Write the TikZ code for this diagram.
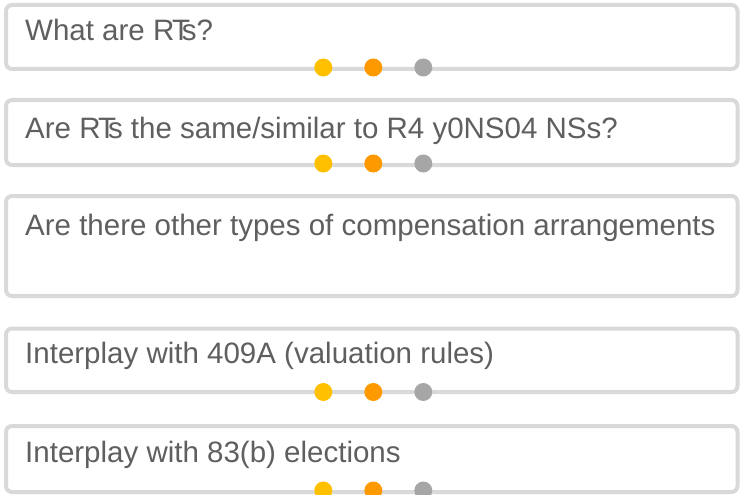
\documentclass[tikz,border=0pt]{standalone}
\usepackage{fontspec}
\setmainfont{Liberation Sans}
\usepackage{tikz}
\usetikzlibrary{shapes,positioning}
\definecolor{boxline}{HTML}{D9D9D9}
\definecolor{qtext}{HTML}{5F5F5F}
\definecolor{dotyellow}{HTML}{FFC000}
\definecolor{dotorange}{HTML}{FF9900}
\definecolor{dotgray}{HTML}{A6A6A6}
\newcommand{\rts}{R\kern-0.08em T\kern-0.28em s}
\tikzset{
  qbox/.style={
    rectangle,
    rounded corners=6pt,
    draw=boxline, line width=4pt,
    fill=white,
    minimum width=731.5pt,
    inner sep=0pt, outer sep=0pt},
  qlabel/.style={
    anchor=base west,
    inner sep=0pt,
    text=qtext,
    font=\fontsize{29.5}{35}\selectfont},
}

\begin{document}
\begin{tikzpicture}[
    x=1pt, y=-1pt,
    dot/.style={circle, inner sep=0pt, minimum size=18pt},
    first dot/.style={dot, fill=dotyellow},
    second dot/.style={dot, fill=dotorange},
    third dot/.style={dot, fill=dotgray}
    ]

    \useasboundingbox (0,0) rectangle (742,495);

    % Boxes
    \node[qbox, minimum height=64pt] (q1) at (371.75,37) {};
    \node[qbox, minimum height=65pt] (q2) at (371.75,132.5) {};
    \node[qbox, minimum height=100pt] (q3) at (371.75,246) {};
    \node[qbox, minimum height=63.5pt] (q4) at (371.75,360.25) {};
    \node[qbox, minimum height=66pt] (q5) at (371.75,459) {};

    % Questions
    \node[qlabel] (t1) at (25,41) {What are \rts?};
    \node[qlabel] (t2) at (25,138) {Are \rts{} the same/similar to R4 y0NS04 NSs?};
    \node[qlabel] (t3) at (25,235) {Are there other types of compensation arrangements};
    \node[qlabel] (t4) at (25,363) {Interplay with 409A (valuation rules)};
    \node[qlabel] (t5) at (25,462) {Interplay with 83(b) elections};

    %dots
    \node[first dot]  (q1a) at (323.3,67.5) {};
    \node[second dot] (q1b) at (373.3,67.5) {};
    \node[third dot]  (q1c) at (423.3,67.5) {};

    \node[first dot]  (q2a) at (323.3,163.5) {};
    \node[second dot] (q2b) at (373.3,163.5) {};
    \node[third dot]  (q2c) at (423.3,163.5) {};

    \node[first dot]  (q4a) at (323.3,392) {};
    \node[second dot] (q4b) at (373.3,392) {};
    \node[third dot]  (q4c) at (423.3,392) {};

    \node[first dot]  (q5a) at (323.3,490.5) {};
    \node[second dot] (q5b) at (373.3,490.5) {};
    \node[third dot]  (q5c) at (423.3,490.5) {};

\end{tikzpicture}
\end{document}
